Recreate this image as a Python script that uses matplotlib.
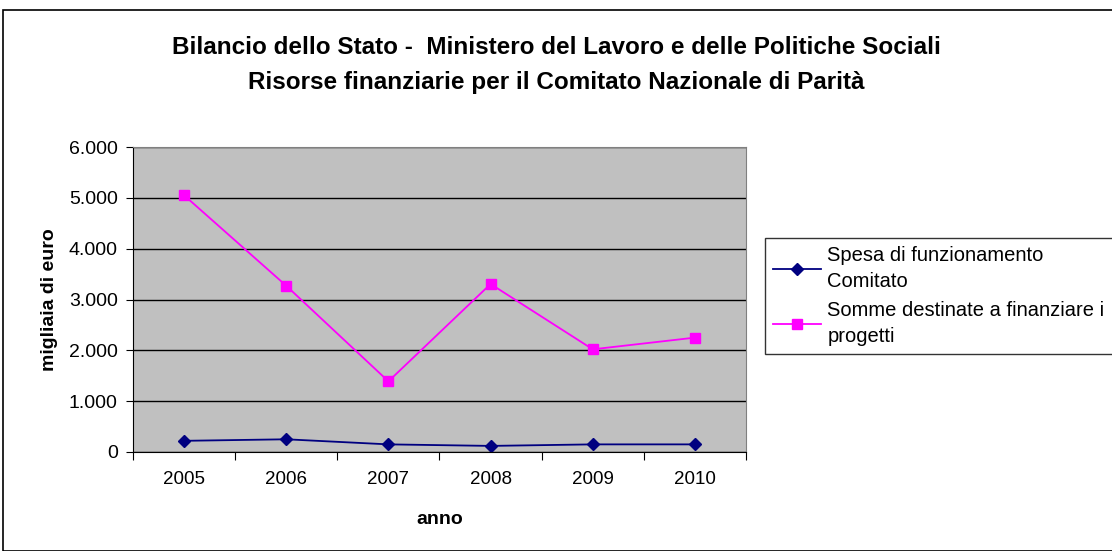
import matplotlib
matplotlib.use("Agg")
import matplotlib.pyplot as plt
import numpy as np
from matplotlib.patches import Rectangle
from matplotlib.ticker import FuncFormatter

plt.rcParams["font.family"] = ["Liberation Sans", "DejaVu Sans"]

anni = ["2005", "2006", "2007", "2008", "2009", "2010"]
spesa_funzionamento = [220, 250, 150, 120, 150, 150]
somme_progetti = [5050, 3270, 1390, 3305, 2020, 2250]

fig = plt.figure(figsize=(11.12, 5.51), dpi=100)
fig.patches.append(Rectangle((3 / 1112, 0.0), 1.2, 1 - 10 / 551, transform=fig.transFigure,
                             fill=False, edgecolor="black", lw=1.2))

ax = fig.add_axes([133 / 1112, 1 - 452 / 551, (746 - 133) / 1112, (452 - 147) / 551])
ax.set_facecolor("#c0c0c0")

x = np.arange(len(anni))
ax.plot(x, spesa_funzionamento, color="#000080", marker="D", ms=6, lw=1.3,
        label="Spesa di funzionamento\nComitato")
ax.plot(x, somme_progetti, color="#ff00ff", marker="s", ms=7, lw=1.3,
        label="Somme destinate a finanziare i\nprogetti")

ax.set_xlim(-0.5, len(anni) - 0.5)
ax.set_ylim(0, 6000)
ax.set_yticks(np.arange(0, 6001, 1000))
ax.yaxis.set_major_formatter(FuncFormatter(lambda v, p: f"{int(v):,}".replace(",", ".")))
ax.yaxis.grid(True, color="black", lw=1)
ax.set_axisbelow(True)

ax.set_xticks(np.arange(-0.5, len(anni), 1.0))
ax.set_xticklabels([])
ax.set_xticks(x, minor=True)
ax.set_xticklabels(anni, minor=True)
ax.tick_params(axis="x", which="minor", length=0, pad=14, labelsize=13.5)
ax.tick_params(axis="x", which="major", length=6, direction="out", color="black")
ax.tick_params(axis="y", length=5, direction="out", labelsize=14, pad=6)

for s in ["top", "right"]:
    ax.spines[s].set_color("#808080")
for s in ["left", "bottom"]:
    ax.spines[s].set_color("black")

ax.set_ylabel("migliaia di euro", fontsize=14, fontweight="bold", labelpad=8)
ax.set_xlabel("anno", fontsize=14, fontweight="bold", labelpad=16)

fig.text(0.5, 1 - 48 / 551,
         "Bilancio dello Stato -  Ministero del Lavoro e delle Politiche Sociali",
         ha="center", va="center", fontsize=17.5, fontweight="bold")
fig.text(0.5, 1 - 82 / 551,
         "Risorse finanziarie per il Comitato Nazionale di Parità",
         ha="center", va="center", fontsize=17.5, fontweight="bold")

leg = ax.legend(loc="upper left", bbox_to_anchor=(765 / 1112, 1 - 238 / 551),
                bbox_transform=fig.transFigure, fontsize=14.5, frameon=True,
                fancybox=False, edgecolor="black", borderaxespad=0,
                handlelength=2.4, handletextpad=0.3, labelspacing=0.5,
                borderpad=0.4)
for t in leg.get_texts():
    t.set_linespacing(1.45)
leg.get_frame().set_linewidth(1)

fig.savefig("out.png", dpi=100)
